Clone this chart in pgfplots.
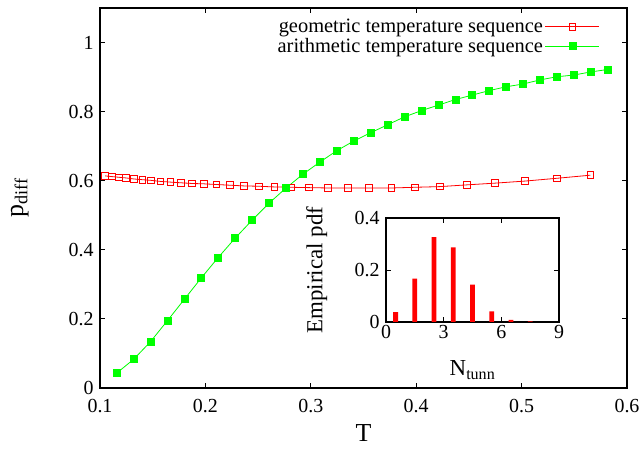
\documentclass[border=0pt]{standalone}
\usepackage{fontspec}
\setmainfont{Liberation Serif}
\usepackage{pgfplots}
\usepackage{pgfplotstable}
\pgfplotsset{compat=1.18}
\definecolor{gpred}{RGB}{255,0,0}
\definecolor{gpgreen}{RGB}{0,255,0}

\pgfplotstableread{
T p
0.1049 0.614
0.1112 0.612
0.1178 0.610
0.1249 0.608
0.1323 0.605
0.1402 0.603
0.1486 0.601
0.1575 0.598
0.1669 0.596
0.1769 0.594
0.1875 0.592
0.1987 0.591
0.2106 0.589
0.2232 0.587
0.2365 0.585
0.2507 0.584
0.2656 0.582
0.2815 0.581
0.2984 0.580
0.3162 0.579
0.3351 0.579
0.3552 0.579
0.3764 0.579
0.3989 0.581
0.4228 0.583
0.4480 0.588
0.4748 0.593
0.5032 0.599
0.5333 0.607
0.5652 0.616
}\geodata

\pgfplotstableread{
T p
0.1158 0.043
0.1319 0.083
0.1479 0.134
0.1640 0.195
0.1801 0.257
0.1962 0.319
0.2122 0.378
0.2283 0.434
0.2444 0.486
0.2604 0.535
0.2765 0.579
0.2926 0.619
0.3086 0.654
0.3247 0.687
0.3408 0.715
0.3569 0.739
0.3729 0.762
0.3890 0.785
0.4051 0.803
0.4211 0.819
0.4372 0.835
0.4533 0.848
0.4694 0.861
0.4854 0.872
0.5015 0.880
0.5176 0.892
0.5336 0.901
0.5497 0.906
0.5658 0.915
0.5819 0.922
}\aridata

\pgfplotstableread{
n pdf
0.5 0.038
1.5 0.167
2.5 0.326
3.5 0.287
4.5 0.144
5.5 0.041
6.5 0.008
7.5 0.002
}\pdfdata

\begin{document}
\begin{tikzpicture}
\useasboundingbox (-100bp,-62bp) rectangle (542bp,388bp);
\begin{axis}[
  name=main, at={(0,0)}, anchor=south west,
  scale only axis, width=527bp, height=380bp,
  xmin=0.1, xmax=0.6, ymin=0, ymax=1.1,
  xtick={0.1,0.2,0.3,0.4,0.5,0.6},
  ytick={0,0.2,0.4,0.6,0.8,1},
  /pgf/number format/assume math mode=true,
  xticklabel={\pgfmathprintnumber{\tick}},
  yticklabel={\pgfmathprintnumber{\tick}},
  tick label style={font=\fontsize{20}{20}\selectfont},
  xticklabel style={yshift=-8bp},
  yticklabel style={xshift=-3bp},
  axis line style={line width=1.3bp, black},
  major tick style={line width=0.9bp, black},
  major tick length=5bp,
  tick align=inside,
  xlabel={T},
  ylabel={p\textsubscript{diff}},
  label style={font=\fontsize{26}{26}\selectfont},
  xlabel style={at={(axis description cs:0.5,-0.14)}, anchor=base, inner sep=0pt},
  ylabel style={at={(axis description cs:-0.152,0.5)}, anchor=center},
  legend plot pos=right,
  legend cell align=right,
  legend style={draw=none, fill=none, at={(1,1)}, anchor=north east,
    xshift=-24bp, yshift=-7bp, font=\fontsize{20.5}{20.5}\selectfont,
    row sep=0pt},
  legend image code/.code={
    \draw[#1, mark repeat=2, mark phase=2] plot coordinates {(10bp,0bp) (37bp,0bp) (64bp,0bp)};
  },
]
\addplot[gpred, line width=0.8bp, mark=square, mark size=3.3bp,
  mark options={line width=0.9bp, solid}]
  table[x=T, y=p] {\geodata};
\addlegendentry{geometric temperature sequence}
\addplot[gpgreen, line width=0.8bp, mark=square*, mark size=3.5bp,
  mark options={fill=gpgreen, draw=gpgreen}]
  table[x=T, y=p] {\aridata};
\addlegendentry{arithmetic temperature sequence}
\end{axis}

\begin{axis}[
  at={(286bp,66bp)}, anchor=south west,
  scale only axis, width=173bp, height=104bp,
  xmin=0, xmax=9, ymin=0, ymax=0.4,
  xtick={0,3,6,9}, ytick={0,0.2,0.4},
  /pgf/number format/assume math mode=true,
  xticklabel={\pgfmathprintnumber{\tick}},
  yticklabel={\pgfmathprintnumber{\tick}},
  tick label style={font=\fontsize{20}{20}\selectfont},
  yticklabel style={xshift=-3bp},
  axis line style={line width=1.3bp, black},
  major tick style={line width=0.9bp, black},
  major tick length=5bp,
  tick align=inside,
  xlabel={N\textsubscript{tunn}},
  ylabel={Empirical pdf},
  label style={font=\fontsize{23}{23}\selectfont},
  xlabel style={at={(axis description cs:0.5,-0.46)}, anchor=center},
  ylabel style={at={(axis description cs:-0.4,0.5)}, anchor=center},
]
\addplot[ybar, bar width=0.25, fill=gpred, draw=none] table[x=n, y=pdf] {\pdfdata};
\end{axis}
\end{tikzpicture}
\end{document}
